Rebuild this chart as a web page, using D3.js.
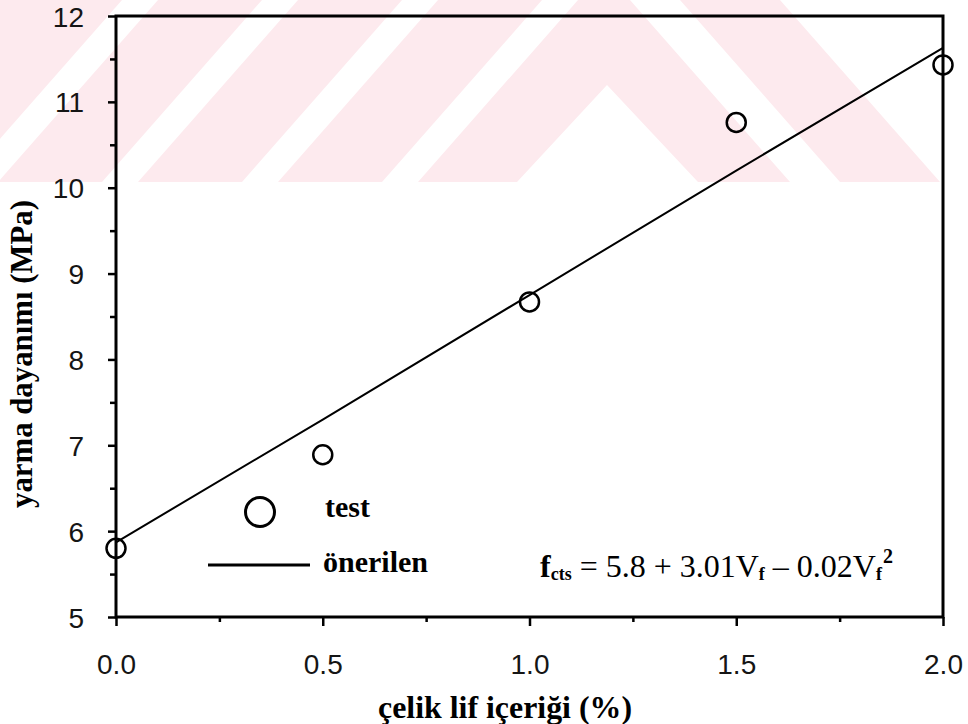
<!DOCTYPE html>
<html>
<head>
<meta charset="utf-8">
<script src="https://cdn.jsdelivr.net/npm/d3@7"></script>
<style>
  body { margin: 0; background: #ffffff; }
  .tick-label { font-family: "Liberation Sans", Arial, sans-serif; font-size: 28px; fill: #151515; }
  .serif-b { font-family: "Liberation Serif", "Times New Roman", serif; font-weight: bold; fill: #000; }
  .serif { font-family: "Liberation Serif", "Times New Roman", serif; fill: #000; }
</style>
</head>
<body>
<div id="chart"></div>
<script>
// test values
var fiber_content = [0.0, 0.5, 1.0, 1.5, 2.0];
var test_strength = [5.8, 6.89, 8.67, 10.76, 11.43];
// proposed curve
var proposed_strength = [5.87, 7.3, 8.75, 10.2, 11.63];

var x_ticks = [0.0, 0.5, 1.0, 1.5, 2.0];
var x_minor = [0.25, 0.75, 1.25, 1.75];
var y_ticks = [5, 6, 7, 8, 9, 10, 11, 12];
var y_minor = [5.5, 6.5, 7.5, 8.5, 9.5, 10.5, 11.5];

var width = 968,
  height = 724;
var margins = { top: 16, right: 25, bottom: 107, left: 116 };

var svg = d3
  .select("#chart")
  .append("svg")
  .attr("width", width)
  .attr("height", height)
  .attr("viewBox", [0, 0, width, height]);

// Background watermark (light pink stripes in the top band)
var band_h = 182;
var stripes = [
  [[-300, 182], [-38, 182], [122, 0], [-140, 0]],
  [[-2, 182], [102, 182], [262, 0], [158, 0]],
  [[138, 182], [242, 182], [402, 0], [298, 0]],
  [[278, 182], [382, 182], [542, 0], [438, 0]],
  [[418, 182], [517, 182], [607, 85], [698, 182], [790, 182], [630, 0], [578, 0]],
  [[840, 182], [940, 182], [780, 0], [680, 0]],
];

svg
  .append("clipPath")
  .attr("id", "band-clip")
  .append("rect")
  .attr("x", 0)
  .attr("y", 0)
  .attr("width", width)
  .attr("height", band_h);

svg
  .append("g")
  .attr("clip-path", "url(#band-clip)")
  .selectAll("polygon")
  .data(stripes)
  .enter()
  .append("polygon")
  .attr("points", (d) => d.map((p) => p.join(",")).join(" "))
  .attr("fill", "#fdeaee");

var x = d3
  .scaleLinear()
  .domain([0, 2])
  .range([margins.left, width - margins.right]);

var y = d3
  .scaleLinear()
  .domain([5, 12])
  .range([height - margins.bottom, margins.top]);

// Minor ticks
svg
  .append("g")
  .attr("transform", "translate(0," + y(5) + ")")
  .call(d3.axisBottom(x).tickValues(x_minor).tickSize(5).tickSizeOuter(0).tickFormat(""))
  .call((g) => g.select(".domain").remove())
  .call((g) => g.selectAll("line").attr("stroke", "#000").attr("stroke-width", 2.5));

svg
  .append("g")
  .attr("transform", "translate(" + x(0) + ",0)")
  .call(d3.axisLeft(y).tickValues(y_minor).tickSize(6).tickSizeOuter(0).tickFormat(""))
  .call((g) => g.select(".domain").remove())
  .call((g) => g.selectAll("line").attr("stroke", "#000").attr("stroke-width", 2.5));

// Major ticks + labels
svg
  .append("g")
  .attr("transform", "translate(0," + y(5) + ")")
  .call(d3.axisBottom(x).tickValues(x_ticks).tickSize(9).tickSizeOuter(0).tickFormat(d3.format(".1f")))
  .call((g) => g.select(".domain").remove())
  .call((g) => g.selectAll("line").attr("stroke", "#000").attr("stroke-width", 2.5))
  .call((g) =>
    g
      .selectAll("text")
      .attr("class", "tick-label")
      .attr("y", 57)
      .attr("dy", null)
      .attr("fill", null)
  );

svg
  .append("g")
  .attr("transform", "translate(" + x(0) + ",0)")
  .call(d3.axisLeft(y).tickValues(y_ticks).tickSize(8).tickSizeOuter(0).tickFormat(d3.format("d")))
  .call((g) => g.select(".domain").remove())
  .call((g) => g.selectAll("line").attr("stroke", "#000").attr("stroke-width", 2.5))
  .call((g) =>
    g
      .selectAll("text")
      .attr("class", "tick-label")
      .attr("x", -32)
      .attr("dy", "0.36em")
      .attr("fill", null)
  );

// Frame
svg
  .append("rect")
  .attr("x", x(0))
  .attr("y", y(12))
  .attr("width", x(2) - x(0))
  .attr("height", y(5) - y(12))
  .attr("fill", "none")
  .attr("stroke", "#000")
  .attr("stroke-width", 3);

// Proposed line
var line = d3
  .line()
  .x((d, i) => x(fiber_content[i]))
  .y((d) => y(d));

svg
  .append("path")
  .datum(proposed_strength)
  .attr("d", line)
  .attr("fill", "none")
  .attr("stroke", "#000")
  .attr("stroke-width", 2);

// Test points
svg
  .selectAll(".pt")
  .data(test_strength)
  .enter()
  .append("circle")
  .attr("class", "pt")
  .attr("cx", (d, i) => x(fiber_content[i]))
  .attr("cy", (d) => y(d))
  .attr("r", 9.5)
  .attr("fill", "none")
  .attr("stroke", "#000")
  .attr("stroke-width", 2.5);

// Legend
svg
  .append("circle")
  .attr("cx", 260)
  .attr("cy", 512)
  .attr("r", 14.5)
  .attr("fill", "none")
  .attr("stroke", "#000")
  .attr("stroke-width", 3);

svg.append("text").attr("class", "serif-b").attr("x", 325).attr("y", 517).style("font-size", "30px").text("test");

svg
  .append("line")
  .attr("x1", 208)
  .attr("x2", 310)
  .attr("y1", 565)
  .attr("y2", 565)
  .attr("stroke", "#000")
  .attr("stroke-width", 3);

svg.append("text").attr("class", "serif-b").attr("x", 323).attr("y", 572).style("font-size", "30px").text("önerilen");

// Equation
var eq = svg.append("text").attr("class", "serif").attr("x", 540).attr("y", 577).style("font-size", "32px");
eq.append("tspan").attr("font-weight", "bold").text("f");
eq.append("tspan").attr("font-weight", "bold").style("font-size", "18px").attr("dy", 3).text("cts");
eq.append("tspan").attr("dy", -3).text(" = 5.8 + 3.01V");
eq.append("tspan").attr("font-weight", "bold").style("font-size", "18px").attr("dy", 3).text("f");
eq.append("tspan").attr("dy", -3).text(" – 0.02V");
eq.append("tspan").attr("font-weight", "bold").style("font-size", "18px").attr("dy", 3).text("f");
eq.append("tspan").attr("font-weight", "bold").style("font-size", "20px").attr("dx", 1).attr("dy", -17).text("2");

// Axis titles
svg
  .append("text")
  .attr("class", "serif-b")
  .attr("x", 378)
  .attr("y", 718)
  .attr("textLength", 254)
  .attr("lengthAdjust", "spacingAndGlyphs")
  .style("font-size", "32px")
  .text("çelik lif içeriği (%)");

svg
  .append("text")
  .attr("class", "serif-b")
  .attr("transform", "translate(32,354) rotate(-90)")
  .attr("text-anchor", "middle")
  .attr("textLength", 308)
  .attr("lengthAdjust", "spacingAndGlyphs")
  .style("font-size", "31px")
  .text("yarma dayanımı (MPa)");
</script>
</body>
</html>
